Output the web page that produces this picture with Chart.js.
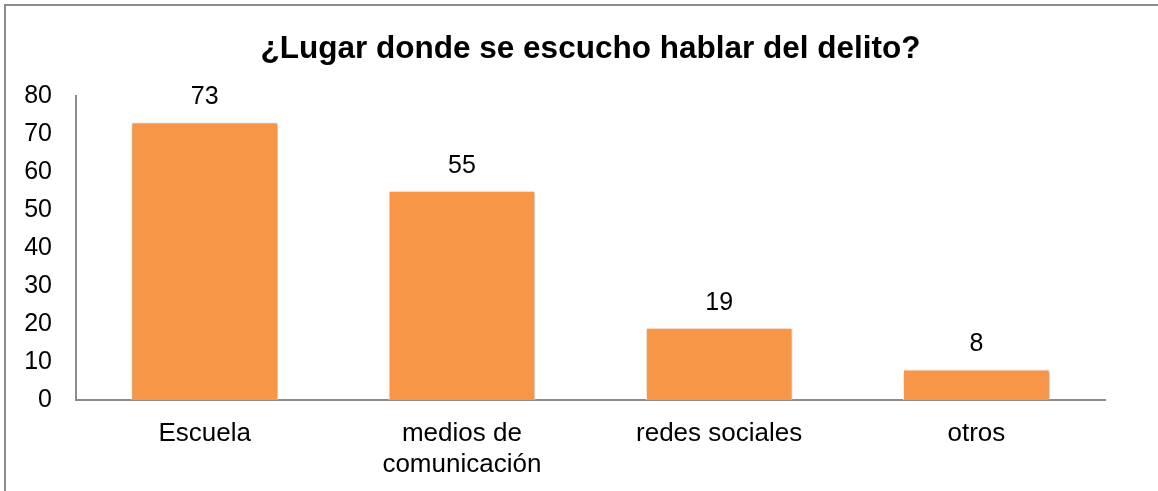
<!DOCTYPE html>
<html>
<head>
<meta charset="utf-8">
<script src="https://cdn.jsdelivr.net/npm/chart.js@4/dist/chart.umd.min.js"></script>
<style>
  html, body { margin: 0; padding: 0; background: #fff; overflow: hidden; }
  #frame { position: absolute; left: 4px; top: 4px; width: 1200px; height: 600px; border: 2px solid #8c8c8c; box-sizing: border-box; }
  #wrap { position: absolute; left: 0; top: 0; width: 1158px; height: 491px; }
</style>
</head>
<body>
<div id="frame"></div>
<div id="wrap"><canvas id="chart"></canvas></div>
<script>
const categories = ['Escuela', ['medios de', 'comunicación'], 'redes sociales', 'otros'];
const values = [73, 55, 19, 8];
const yTicks = { min: 0, max: 80, step: 10 };

const FONT = '"Liberation Sans", Arial, sans-serif';

// valor encima de cada barra
const valueLabels = {
    id: 'valueLabels',
    afterDatasetsDraw(chart) {
        const ctx = chart.ctx;
        const meta = chart.getDatasetMeta(0);
        ctx.save();
        ctx.font = '25px ' + FONT;
        ctx.fillStyle = '#000';
        ctx.textAlign = 'center';
        ctx.textBaseline = 'middle';
        meta.data.forEach((bar, i) => {
            ctx.fillText(values[i], bar.x, bar.y - 25);
        });
        ctx.restore();
    }
};

// sombra suave de las barras
const barShadow = {
    id: 'barShadow',
    beforeDatasetsDraw(chart) {
        const ctx = chart.ctx;
        ctx.save();
        ctx.shadowColor = 'rgba(0,0,0,0.35)';
        ctx.shadowBlur = 3;
        ctx.shadowOffsetX = 1;
        ctx.shadowOffsetY = 1;
    },
    afterDatasetsDraw(chart) {
        chart.ctx.restore();
    }
};

new Chart(document.getElementById('chart').getContext('2d'), {
    type: 'bar',
    data: {
        labels: categories,
        datasets: [{
            data: values,
            backgroundColor: '#F79646',
            borderColor: '#ffffff',
            borderWidth: 1,
            categoryPercentage: 1,
            barPercentage: 0.57
        }]
    },
    options: {
        responsive: true,
        maintainAspectRatio: false,
        animation: false,
        layout: { padding: { left: 20, right: 53, top: 0, bottom: 0 } },
        plugins: {
            legend: { display: false },
            tooltip: { enabled: false },
            title: {
                display: true,
                fullSize: false,
                text: '¿Lugar donde se escucho hablar del delito?',
                color: '#000',
                font: { family: FONT, size: 31.5, weight: 'bold' },
                padding: { top: 30, bottom: 28 }
            }
        },
        scales: {
            x: {
                grid: { display: false, drawTicks: false },
                border: { display: true, color: '#8c8c8c', width: 2 },
                afterFit(scale) { scale.height = 91; },
                ticks: {
                    color: '#000',
                    padding: 18,
                    maxRotation: 0,
                    font: { family: FONT, size: 26, lineHeight: 1.2 }
                }
            },
            y: {
                min: yTicks.min,
                max: yTicks.max,
                grid: { display: false, drawTicks: false },
                border: { display: true, color: '#8c8c8c', width: 2 },
                afterFit(scale) { scale.width = 56; },
                ticks: {
                    stepSize: yTicks.step,
                    color: '#000',
                    padding: 24,
                    font: { family: FONT, size: 25 }
                }
            }
        }
    },
    plugins: [barShadow, valueLabels]
});
</script>
</body>
</html>
